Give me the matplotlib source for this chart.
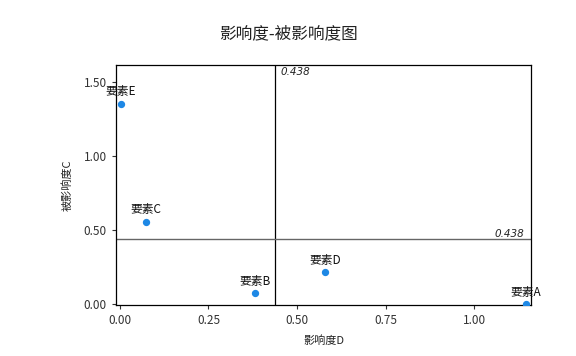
import matplotlib
matplotlib.use("Agg")
import matplotlib.pyplot as plt

plt.rcParams['font.family'] = ['Noto Sans CJK SC', 'DejaVu Sans']
plt.rcParams['axes.unicode_minus'] = False

names = ["要素A", "要素B", "要素C", "要素D", "要素E"]
x_vals = [1.147, 0.381, 0.073, 0.579, 0.003]
y_vals = [0.0, 0.074, 0.558, 0.215, 1.352]
x_mean = 0.438
y_mean = 0.438

fig = plt.figure(figsize=(5.76, 3.56), dpi=100)
ax = fig.add_axes([0.2014, 0.1433, 0.7206, 0.6741])

ax.scatter(x_vals, y_vals, s=18, color="#1e88e5", zorder=3)
for n, x, y in zip(names, x_vals, y_vals):
    ax.annotate(n, (x, y), xytext=(0, 4), textcoords="offset points",
                ha="center", va="bottom", fontsize=8.5, color="#111111")

ax.axvline(x_mean, color="black", lw=0.9)
ax.axhline(y_mean, color="#666666", lw=1.0)
ax.text(x_mean + 0.015, 1.60, f"{x_mean:.3f}", style="italic", fontsize=7.5,
        family=["DejaVu Sans"], ha="left", va="top", color="#222222")
ax.text(1.143, y_mean + 0.005, f"{y_mean:.3f}", style="italic", fontsize=7.5,
        family=["DejaVu Sans"], ha="right", va="bottom", color="#222222")

ax.set_xlim(-0.011, 1.161)
ax.set_ylim(-0.005, 1.614)
ax.set_xticks([0.0, 0.25, 0.5, 0.75, 1.0])
ax.set_xticklabels([f"{v:.2f}" for v in [0.0, 0.25, 0.5, 0.75, 1.0]])
ax.set_yticks([0.0, 0.5, 1.0, 1.5])
ax.set_yticklabels([f"{v:.2f}" for v in [0.0, 0.5, 1.0, 1.5]])
ax.tick_params(labelsize=8.5, colors="#333333", length=3)
for s in ax.spines.values():
    s.set_color("black")
    s.set_linewidth(0.9)

ax.set_xlabel("影响度D", fontsize=8, color="#222222", labelpad=6)
ax.set_ylabel("被影响度C", fontsize=8, color="#222222", labelpad=8)
fig.suptitle("影响度-被影响度图", fontsize=12, y=0.93, color="#222222")

fig.savefig("out.png", dpi=100)
